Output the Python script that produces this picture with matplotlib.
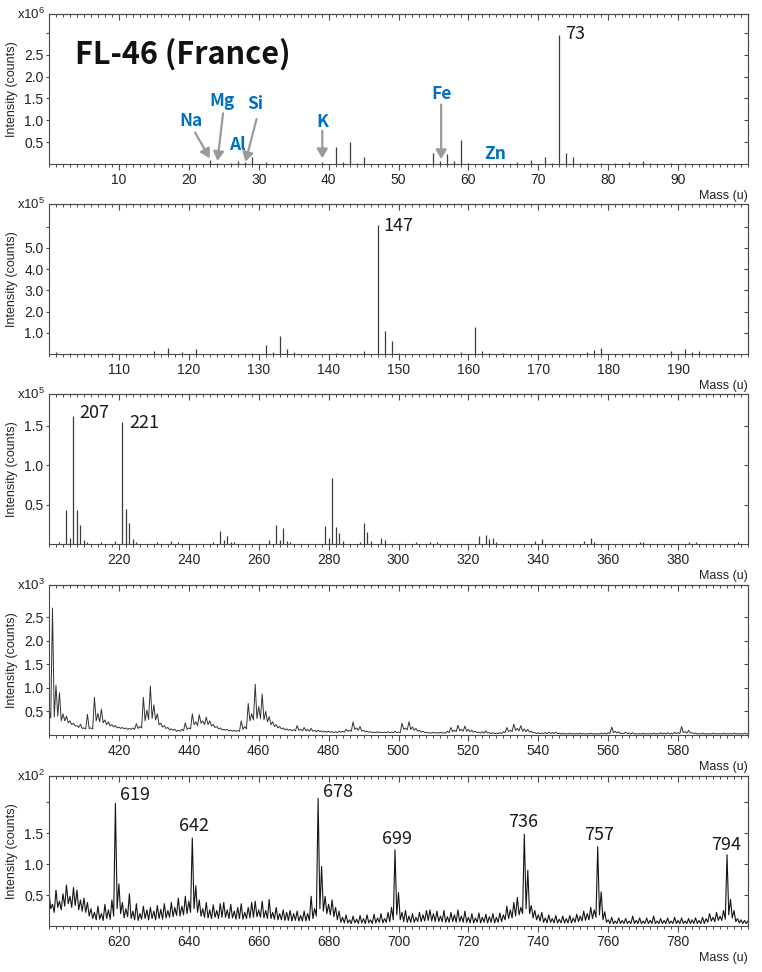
import numpy as np
import matplotlib
matplotlib.use("Agg")
import matplotlib.pyplot as plt

plt.rcParams['font.family'] = ['Liberation Sans', 'DejaVu Sans']
plt.rcParams['mathtext.fontset'] = 'custom'
plt.rcParams['mathtext.rm'] = 'Liberation Sans'
plt.rcParams['mathtext.it'] = 'Liberation Sans:italic'
plt.rcParams['mathtext.bf'] = 'Liberation Sans:bold'

# ---- panel 1 : 0-100 u, x10^6 counts (stick peaks)
p1_mass = [12, 14, 15, 16, 18, 23, 24, 26, 27, 28,
           29, 31, 39, 41, 42, 43, 44, 45, 55, 56,
           57, 58, 59, 60, 67, 69, 71, 72, 73, 74,
           75, 76, 77, 79, 81, 83, 85, 86, 89, 91]
p1_int = [0.01, 0.01, 0.02, 0.01, 0.01, 0.10, 0.03, 0.02, 0.06, 0.05,
          0.15, 0.05, 0.04, 0.40, 0.05, 0.50, 0.03, 0.15, 0.25, 0.06,
          0.23, 0.08, 0.55, 0.02, 0.04, 0.10, 0.15, 0.03, 2.96, 0.25,
          0.17, 0.03, 0.02, 0.02, 0.02, 0.04, 0.07, 0.03, 0.02, 0.02]

# ---- panel 2 : 100-200 u, x10^5 counts
p2_mass = [101, 103, 105, 107, 109, 115, 117, 119, 121, 128,
           129, 131, 132, 133, 134, 135, 141, 145, 147, 148,
           149, 150, 155, 159, 161, 162, 163, 165, 177, 178,
           179, 183, 189, 191, 192, 193, 195]
p2_int = [0.08, 0.06, 0.05, 0.05, 0.04, 0.12, 0.27, 0.11, 0.22, 0.05,
          0.06, 0.42, 0.08, 0.85, 0.22, 0.09, 0.04, 0.12, 6.07, 1.08,
          0.63, 0.06, 0.04, 0.08, 1.26, 0.15, 0.06, 0.04, 0.09, 0.19,
          0.28, 0.04, 0.14, 0.25, 0.08, 0.14, 0.04]

# ---- panel 3 : 200-400 u, x10^5 counts
p3_mass = [203, 205, 206, 207, 208, 209, 210, 211, 215, 219,
           221, 222, 223, 224, 225, 231, 235, 237, 247, 249,
           250, 251, 252, 253, 263, 265, 266, 267, 268, 269,
           279, 280, 281, 282, 283, 284, 289, 290, 291, 292,
           295, 296, 305, 309, 311, 323, 325, 326, 327, 328,
           339, 341, 353, 355, 356, 369, 370, 383, 385, 397]
p3_int = [0.03, 0.43, 0.07, 1.62, 0.43, 0.24, 0.05, 0.02, 0.02, 0.04,
          1.54, 0.44, 0.27, 0.06, 0.03, 0.02, 0.04, 0.02, 0.03, 0.16,
          0.05, 0.10, 0.03, 0.03, 0.05, 0.24, 0.05, 0.20, 0.04, 0.03,
          0.23, 0.07, 0.84, 0.22, 0.14, 0.04, 0.03, 0.27, 0.15, 0.04,
          0.07, 0.05, 0.02, 0.03, 0.03, 0.10, 0.11, 0.06, 0.07, 0.03,
          0.04, 0.06, 0.04, 0.07, 0.03, 0.03, 0.03, 0.02, 0.02, 0.02]

# ---- panel 4 : 400-600 u, x10^3 counts (trace: value at each mass, low between masses)
p4_mass = np.arange(400, 601)
p4_top = [0.55, 2.70, 1.06, 0.90, 0.45, 0.40, 0.30, 0.25, 0.20, 0.23,
          0.15, 0.44, 0.15, 0.80, 0.46, 0.55, 0.32, 0.28, 0.22, 0.20,
          0.17, 0.16, 0.15, 0.14, 0.15, 0.24, 0.18, 0.80, 0.53, 1.04,
          0.64, 0.45, 0.25, 0.20, 0.16, 0.13, 0.12, 0.10, 0.12, 0.26,
          0.15, 0.45, 0.28, 0.43, 0.30, 0.38, 0.30, 0.22, 0.18, 0.15,
          0.12, 0.12, 0.10, 0.10, 0.09, 0.30, 0.18, 0.67, 0.45, 1.08,
          0.60, 0.87, 0.50, 0.39, 0.28, 0.22, 0.18, 0.15, 0.13, 0.12,
          0.11, 0.20, 0.12, 0.16, 0.12, 0.14, 0.10, 0.10, 0.09, 0.08,
          0.08, 0.07, 0.07, 0.08, 0.08, 0.12, 0.10, 0.28, 0.15, 0.18,
          0.10, 0.08, 0.07, 0.06, 0.07, 0.06, 0.06, 0.07, 0.06, 0.08,
          0.06, 0.25, 0.15, 0.28, 0.17, 0.14, 0.10, 0.08, 0.06, 0.05,
          0.06, 0.05, 0.06, 0.05, 0.08, 0.16, 0.10, 0.21, 0.12, 0.19,
          0.12, 0.10, 0.08, 0.06, 0.07, 0.09, 0.05, 0.05, 0.04, 0.05,
          0.07, 0.16, 0.10, 0.23, 0.14, 0.20, 0.13, 0.12, 0.08, 0.05,
          0.05, 0.04, 0.05, 0.06, 0.05, 0.06, 0.04, 0.04, 0.03, 0.04,
          0.03, 0.03, 0.04, 0.03, 0.03, 0.04, 0.03, 0.03, 0.04, 0.04,
          0.05, 0.17, 0.08, 0.07, 0.04, 0.06, 0.04, 0.05, 0.03, 0.03,
          0.04, 0.03, 0.03, 0.04, 0.03, 0.05, 0.04, 0.05, 0.04, 0.06,
          0.05, 0.18, 0.07, 0.10, 0.05, 0.04, 0.03, 0.04, 0.03, 0.03,
          0.04, 0.03, 0.03, 0.04, 0.03, 0.03, 0.04, 0.03, 0.03, 0.04,
          0.03]
p4_low = [0.36, 0.38, 0.40, 0.30, 0.30, 0.26, 0.22, 0.19, 0.16, 0.14,
          0.13, 0.14, 0.13, 0.30, 0.28, 0.26, 0.22, 0.19, 0.17, 0.15,
          0.14, 0.13, 0.12, 0.12, 0.12, 0.14, 0.15, 0.30, 0.33, 0.35,
          0.32, 0.22, 0.17, 0.14, 0.11, 0.10, 0.08, 0.08, 0.09, 0.12,
          0.13, 0.22, 0.20, 0.25, 0.22, 0.22, 0.19, 0.16, 0.13, 0.11,
          0.10, 0.09, 0.08, 0.08, 0.08, 0.12, 0.13, 0.30, 0.32, 0.35,
          0.35, 0.32, 0.28, 0.22, 0.18, 0.15, 0.13, 0.11, 0.10, 0.09,
          0.09, 0.10, 0.09, 0.09, 0.08, 0.08, 0.07, 0.07, 0.06, 0.06,
          0.06, 0.05, 0.05, 0.06, 0.06, 0.08, 0.08, 0.12, 0.10, 0.08,
          0.07, 0.06, 0.05, 0.05, 0.05, 0.05, 0.05, 0.05, 0.05, 0.05,
          0.05, 0.12, 0.11, 0.12, 0.10, 0.08, 0.06, 0.05, 0.04, 0.04,
          0.04, 0.04, 0.04, 0.04, 0.05, 0.07, 0.07, 0.09, 0.08, 0.08,
          0.07, 0.06, 0.05, 0.04, 0.04, 0.04, 0.03, 0.03, 0.03, 0.03,
          0.05, 0.07, 0.07, 0.10, 0.09, 0.08, 0.07, 0.06, 0.05, 0.03,
          0.03, 0.03, 0.03, 0.03, 0.03, 0.03, 0.02, 0.02, 0.02, 0.02,
          0.02, 0.02, 0.02, 0.02, 0.02, 0.02, 0.02, 0.02, 0.02, 0.02,
          0.03, 0.05, 0.04, 0.03, 0.03, 0.03, 0.02, 0.02, 0.02, 0.02,
          0.02, 0.02, 0.02, 0.02, 0.02, 0.02, 0.02, 0.02, 0.02, 0.03,
          0.03, 0.05, 0.04, 0.04, 0.03, 0.02, 0.02, 0.02, 0.02, 0.02,
          0.02, 0.02, 0.02, 0.02, 0.02, 0.02, 0.02, 0.02, 0.02, 0.02]

# ---- panel 5 : 600-800 u, x10^2 counts
p5_mass = np.arange(600, 801)
p5_top = [0.55, 0.35, 0.58, 0.40, 0.52, 0.66, 0.48, 0.62, 0.58, 0.42,
          0.45, 0.38, 0.28, 0.22, 0.32, 0.20, 0.35, 0.26, 0.42, 1.98,
          0.68, 0.38, 0.28, 0.52, 0.24, 0.36, 0.20, 0.32, 0.26, 0.30,
          0.24, 0.33, 0.27, 0.36, 0.25, 0.38, 0.30, 0.45, 0.32, 0.48,
          0.40, 1.42, 0.65, 0.42, 0.28, 0.38, 0.26, 0.34, 0.25, 0.36,
          0.38, 0.26, 0.35, 0.24, 0.30, 0.36, 0.22, 0.30, 0.38, 0.40,
          0.26, 0.40, 0.25, 0.43, 0.22, 0.30, 0.20, 0.26, 0.22, 0.25,
          0.20, 0.24, 0.17, 0.24, 0.20, 0.48, 0.28, 2.06, 0.96, 0.48,
          0.35, 0.42, 0.30, 0.24, 0.14, 0.18, 0.10, 0.16, 0.11, 0.17,
          0.12, 0.18, 0.10, 0.19, 0.13, 0.20, 0.12, 0.22, 0.30, 1.23,
          0.54, 0.22, 0.25, 0.16, 0.20, 0.14, 0.22, 0.18, 0.25, 0.26,
          0.20, 0.24, 0.16, 0.25, 0.15, 0.22, 0.18, 0.26, 0.16, 0.24,
          0.14, 0.20, 0.13, 0.21, 0.14, 0.19, 0.15, 0.20, 0.14, 0.21,
          0.18, 0.32, 0.26, 0.38, 0.46, 0.30, 1.48, 0.90, 0.33, 0.25,
          0.18, 0.22, 0.13, 0.18, 0.12, 0.17, 0.11, 0.16, 0.12, 0.17,
          0.13, 0.19, 0.16, 0.24, 0.20, 0.30, 0.26, 1.28, 0.55, 0.23,
          0.10, 0.14, 0.08, 0.13, 0.09, 0.12, 0.08, 0.16, 0.09, 0.13,
          0.08, 0.13, 0.09, 0.16, 0.08, 0.12, 0.09, 0.13, 0.08, 0.14,
          0.09, 0.13, 0.08, 0.12, 0.10, 0.13, 0.09, 0.14, 0.12, 0.20,
          0.14, 0.22, 0.16, 0.25, 1.15, 0.43, 0.25, 0.12, 0.10, 0.09,
          0.08]
p5_low = [0.28, 0.22, 0.30, 0.26, 0.32, 0.36, 0.30, 0.33, 0.26, 0.24,
          0.22, 0.16, 0.12, 0.10, 0.11, 0.09, 0.12, 0.11, 0.16, 0.28,
          0.20, 0.13, 0.15, 0.12, 0.10, 0.09, 0.11, 0.12, 0.10, 0.12,
          0.10, 0.12, 0.11, 0.13, 0.14, 0.15, 0.17, 0.16, 0.18, 0.20,
          0.22, 0.28, 0.22, 0.16, 0.14, 0.13, 0.12, 0.14, 0.12, 0.14,
          0.14, 0.12, 0.13, 0.11, 0.12, 0.11, 0.12, 0.13, 0.14, 0.15,
          0.14, 0.13, 0.12, 0.12, 0.11, 0.10, 0.10, 0.09, 0.09, 0.08,
          0.09, 0.08, 0.08, 0.08, 0.09, 0.12, 0.16, 0.28, 0.24, 0.20,
          0.18, 0.15, 0.10, 0.06, 0.05, 0.05, 0.04, 0.05, 0.04, 0.05,
          0.04, 0.05, 0.04, 0.05, 0.06, 0.05, 0.06, 0.07, 0.10, 0.18,
          0.10, 0.07, 0.06, 0.06, 0.06, 0.07, 0.07, 0.08, 0.09, 0.08,
          0.07, 0.07, 0.07, 0.06, 0.06, 0.07, 0.06, 0.07, 0.06, 0.06,
          0.05, 0.05, 0.06, 0.05, 0.06, 0.05, 0.06, 0.05, 0.06, 0.07,
          0.10, 0.12, 0.13, 0.16, 0.18, 0.20, 0.28, 0.20, 0.13, 0.10,
          0.08, 0.06, 0.05, 0.06, 0.05, 0.05, 0.05, 0.05, 0.05, 0.05,
          0.06, 0.07, 0.08, 0.09, 0.10, 0.12, 0.14, 0.18, 0.10, 0.06,
          0.04, 0.04, 0.04, 0.04, 0.04, 0.04, 0.04, 0.04, 0.04, 0.04,
          0.04, 0.04, 0.04, 0.04, 0.04, 0.04, 0.04, 0.04, 0.04, 0.04,
          0.04, 0.04, 0.04, 0.04, 0.04, 0.04, 0.04, 0.04, 0.06, 0.08,
          0.07, 0.09, 0.09, 0.11, 0.18, 0.13, 0.07, 0.05, 0.04, 0.04]

# annotations
elements = ['Na', 'Mg', 'Al', 'Si', 'K', 'Fe', 'Zn']
elem_xy = [(20.3, 0.99), (24.8, 1.43), (27.0, 0.44), (29.5, 1.38),
           (39.1, 0.97), (56.1, 1.61), (63.9, 0.22)]
arrows = [((20.9, 0.72), (23.0, 0.13)), ((24.9, 1.16), (24.1, 0.07)),
          ((29.7, 1.03), (28.1, 0.05)), ((39.1, 0.76), (39.1, 0.13)),
          ((56.1, 1.36), (56.1, 0.11))]
peak_labels = [(0, '73', 73.8, 2.97, 'left'), (1, '147', 147.8, 6.05, 'left'),
               (2, '207', 208.6, 1.66, 'left'), (2, '221', 223.0, 1.53, 'left'),
               (4, '619', 620.3, 2.11, 'left'), (4, '642', 641.5, 1.61, 'center'),
               (4, '678', 678.5, 2.16, 'left'), (4, '699', 699.7, 1.40, 'center'),
               (4, '736', 735.7, 1.68, 'center'), (4, '757', 757.5, 1.47, 'center'),
               (4, '794', 793.6, 1.31, 'center')]

panels = [
    dict(xlim=(0, 100), xmajor=range(10, 100, 10), xminor=1, ylim=(0, 3.43),
         yticks=[0.5, 1.0, 1.5, 2.0, 2.5, 3.0], nlab=5, exp='6'),
    dict(xlim=(100, 200), xmajor=range(110, 200, 10), xminor=1, ylim=(0, 7.07),
         yticks=[1, 2, 3, 4, 5, 6], nlab=5, exp='5'),
    dict(xlim=(200, 400), xmajor=range(220, 400, 20), xminor=2, ylim=(0, 1.9),
         yticks=[0.5, 1.0, 1.5], nlab=3, exp='5'),
    dict(xlim=(400, 600), xmajor=range(420, 600, 20), xminor=2, ylim=(0, 3.19),
         yticks=[0.5, 1.0, 1.5, 2.0, 2.5], nlab=5, exp='3'),
    dict(xlim=(600, 800), xmajor=range(620, 800, 20), xminor=2, ylim=(0, 2.42),
         yticks=[0.5, 1.0, 1.5, 2.0], nlab=3, exp='2'),
]

W, H = 762, 972
fig = plt.figure(figsize=(W / 100, H / 100), dpi=100)
tops = [14, 204, 394, 585, 776]
frame = '#4a4a4a'
axes = []
for top, cfg in zip(tops, panels):
    ax = fig.add_axes([49 / W, 1 - (top + 150) / H, 699 / W, 150 / H])
    ax.set_xlim(*cfg['xlim'])
    ax.set_ylim(*cfg['ylim'])
    major = list(cfg['xmajor'])
    minor = np.arange(cfg['xlim'][0], cfg['xlim'][1] + 0.01, cfg['xminor'])
    ax.set_xticks(major)
    ax.set_xticks(minor, minor=True)
    ax.set_yticks(cfg['yticks'], [f'{v:.1f}' if i < cfg['nlab'] else ''
                                  for i, v in enumerate(cfg['yticks'])])
    ax.tick_params(axis='x', which='major', direction='out', length=4, width=0.8,
                   color=frame, labelsize=10, pad=2.5, labelcolor='#222222')
    ax.tick_params(axis='x', which='minor', direction='out', length=2.2, width=0.7, color=frame)
    ax.tick_params(axis='y', direction='out', length=2.5, width=0.8, color=frame,
                   labelsize=10, pad=1.5, labelcolor='#222222')
    for s in ax.spines.values():
        s.set_color(frame)
        s.set_linewidth(0.8)

    tx = ax.secondary_xaxis('top')
    tx.set_xticks(major)
    tx.set_xticks(minor, minor=True)
    tx.tick_params(axis='x', which='major', direction='in', length=4, width=0.8,
                   color=frame, labeltop=False)
    tx.tick_params(axis='x', which='minor', direction='in', length=2.5, width=0.7,
                   color=frame, labeltop=False)
    tx.spines['top'].set_color(frame)
    tx.spines['top'].set_linewidth(0.8)
    ry = ax.secondary_yaxis('right')
    ry.set_yticks(cfg['yticks'])
    ry.tick_params(axis='y', direction='in', length=3, width=0.8, color=frame,
                   labelright=False)
    ry.spines['right'].set_color(frame)
    ry.spines['right'].set_linewidth(0.8)

    ax.text(-0.053, 0.5, 'Intensity (counts)', transform=ax.transAxes, rotation=90,
            ha='center', va='center', fontsize=9, color='#222222')
    ax.text(-0.006, 1.0, r'x10$^{' + cfg['exp'] + '}$', transform=ax.transAxes,
            ha='right', va='center', fontsize=9.5, color='#222222')
    ax.annotate('Mass (u)', xy=(1, 0), xycoords='axes fraction', xytext=(0, -23),
                textcoords='offset points', ha='right', va='center', fontsize=9,
                color='#222222')
    axes.append(ax)

line_col = '#3c3c3c'
axes[0].vlines(p1_mass, 0, p1_int, color=line_col, lw=0.9)
axes[1].vlines(p2_mass, 0, p2_int, color=line_col, lw=0.9)
axes[2].vlines(p3_mass, 0, p3_int, color=line_col, lw=0.9)

for ax, m, top_v, low_v, col, lw in [(axes[3], p4_mass, p4_top, p4_low, '#333333', 0.7),
                                     (axes[4], p5_mass, p5_top, p5_low, '#151515', 0.8)]:
    x = np.empty(len(m) * 2 - 1)
    y = np.empty(len(m) * 2 - 1)
    x[0::2] = m
    x[1::2] = m[:-1] + 0.5
    y[0::2] = top_v
    y[1::2] = low_v
    ax.plot(x, y, color=col, lw=lw)

# title and element labels
axes[0].text(0.037, 0.667, 'FL-46 (France)', transform=axes[0].transAxes,
             fontsize=22, fontweight='bold', family=['Noto Sans CJK KR', 'DejaVu Sans'],
             va='baseline', ha='left', color='#111111')
for name, (ex, ey) in zip(elements, elem_xy):
    axes[0].text(ex, ey, name, ha='center', va='center', fontsize=12.5, fontweight='bold',
                 color='#0070C0', family=['Noto Sans CJK KR', 'DejaVu Sans'])
for tail, tip in arrows:
    axes[0].annotate('', xy=tip, xytext=tail,
                     arrowprops=dict(arrowstyle='-|>,head_length=0.55,head_width=0.32',
                                     color='#9a9a9a', lw=1.6, shrinkA=0, shrinkB=0))

for i, txt, px, py, ha in peak_labels:
    axes[i].text(px, py, txt, ha=ha, va='center', fontsize=13, color='#1a1a1a',
                 family=['Noto Sans CJK KR', 'DejaVu Sans'])

fig.savefig('out.png', dpi=100)
